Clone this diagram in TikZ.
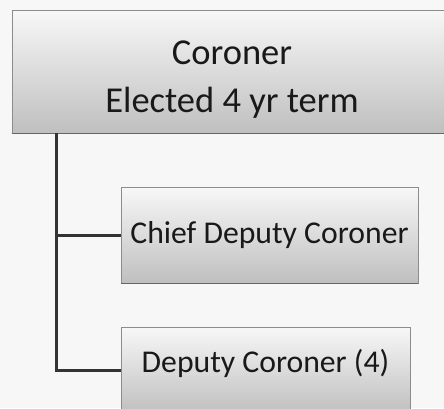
\documentclass[tikz,border=0pt]{standalone}
\usepackage{fontspec}
\setmainfont{Carlito}
\begin{document}
\begin{tikzpicture}[x=1pt,y=1pt,
  box/.style={rectangle, inner sep=0pt, top color=white!97!black, bottom color=black!25, draw=black!45, line width=0.8pt},
  conn/.style={draw=black!80, line width=3pt},
  lbl/.style={font=\fontsize{31.7}{40}\selectfont, text=black!90}]
\useasboundingbox[fill=white!97!black] (0,0) rectangle (444,408);
\node[box, minimum width=438, minimum height=123] (cor) at (231,336.5) {};
\node[lbl, font=\fontsize{36.5}{48}\selectfont, align=center] (cortxt) at (232,328) {Coroner\\Elected 4 yr term};
\node[box, minimum width=297, minimum height=96] (chief) at (269.5,173) {};
\node[lbl] (chieftxt) at (chief.center) {Chief Deputy Coroner};
\node[box, minimum width=289, minimum height=86] (dep) at (265.5,38) {};
\node[lbl] (deptxt) at (265.5,45) {Deputy Coroner (4)};
\draw[black!60, line width=1.5pt] (cor.south west) -- (cor.south east);
\draw[black!60, line width=1.5pt] (chief.south west) -- (chief.south east);
\coordinate (trunk) at (56,0 |- cor.south);
\draw[conn] (cor.south -| trunk) -- (trunk |- dep.west) -- (dep.west);
\draw[conn] (trunk |- chief.west) -- (chief.west);
\end{tikzpicture}
\end{document}
